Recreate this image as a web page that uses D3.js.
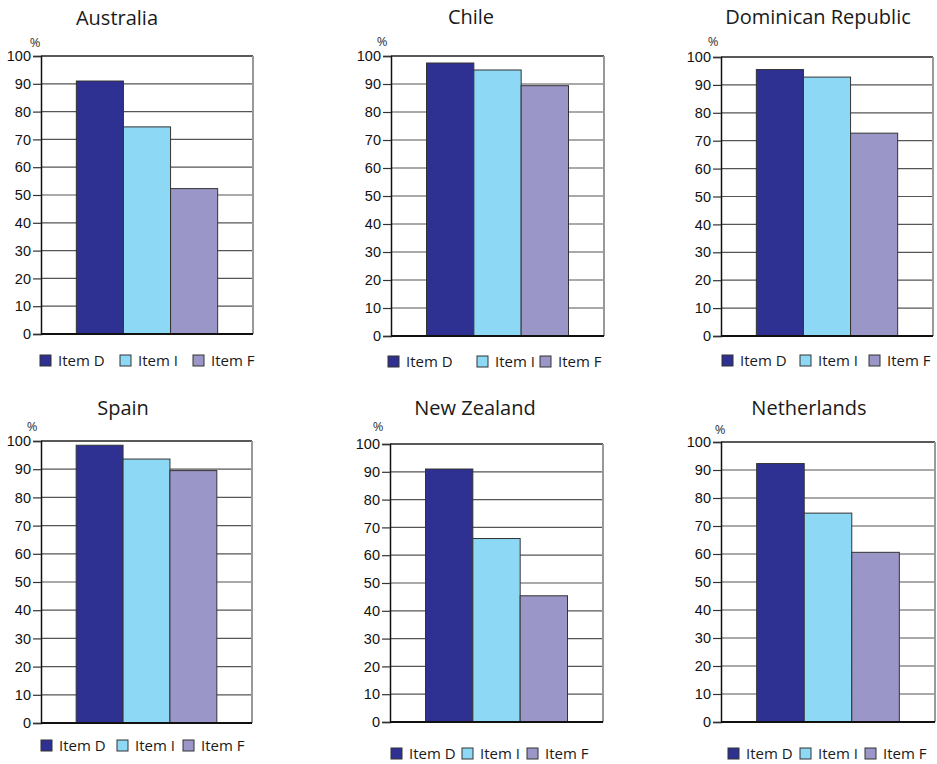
<!DOCTYPE html>
<html>
<head>
<meta charset="utf-8">
<script src="https://cdn.jsdelivr.net/npm/d3@7"></script>
<style>
  html, body { margin: 0; padding: 0; background: #fff; }
  svg { display: block; }
  .tick text { font-family: "Liberation Sans", Arial, sans-serif; font-size: 14.5px; fill: #111; }
</style>
</head>
<body>
<svg id="chart" width="937" height="764"></svg>
<script>
// ---- data ----
const countries = ["Australia", "Chile", "Dominican Republic", "Spain", "New Zealand", "Netherlands"];
const items = ["Item D", "Item I", "Item F"];
const itemD = [91, 97.5, 95.5, 98.5, 91, 92.3];
const itemI = [74.5, 95, 92.8, 93.6, 66, 74.6];
const itemF = [52.3, 89.4, 72.7, 89.5, 45.4, 60.6];
const yTicks = [0, 10, 20, 30, 40, 50, 60, 70, 80, 90, 100];
const colors = ["#2e3192", "#8dd8f5", "#9b96c8"];

// ---- layout (per panel) ----
const layout = [
  {left: 41,  right: 253, top: 56,  bottom: 334, titleX: 117, titleY: 25,  pctX: 35,  pctY: 47,  legX: [40, 120, 193], legY: 361},
  {left: 391, right: 604, top: 56,  bottom: 336, titleX: 471, titleY: 24,  pctX: 382, pctY: 46,  legX: [388, 477, 540], legY: 362},
  {left: 721, right: 933, top: 57,  bottom: 336, titleX: 818, titleY: 24,  pctX: 713, pctY: 46,  legX: [722, 800, 869], legY: 361},
  {left: 41,  right: 252, top: 441, bottom: 723, titleX: 123, titleY: 415, pctX: 32,  pctY: 431, legX: [41, 117, 183], legY: 746},
  {left: 390, right: 603, top: 444, bottom: 722, titleX: 475, titleY: 415, pctX: 378, pctY: 431, legX: [391, 462, 527], legY: 754},
  {left: 721, right: 935, top: 442, bottom: 722, titleX: 809, titleY: 415, pctX: 720, pctY: 434, legX: [728, 800, 865], legY: 754}
];

const svg = d3.select("#chart");
const series = [itemD, itemI, itemF];

countries.forEach((country, ci) => {
  const L = layout[ci];
  const g = svg.append("g");
  const values = items.map((it, k) => ({item: it, value: series[k][ci]}));

  const x = d3.scaleBand().domain(items).range([L.left, L.right]).paddingInner(0).paddingOuter(0.75);
  const y = d3.scaleLinear().domain([0, 100]).range([L.bottom, L.top]);

  // gridlines
  g.append("g").selectAll("line").data(yTicks.filter(t => t > 0)).join("line")
    .attr("x1", L.left).attr("x2", L.right)
    .attr("y1", d => y(d)).attr("y2", d => y(d))
    .attr("stroke", d => d === 100 ? "#222" : "#555")
    .attr("stroke-width", d => d === 100 ? 1.5 : 1.2);

  // right border
  g.append("line").attr("x1", L.right).attr("x2", L.right)
    .attr("y1", y(100)).attr("y2", y(0))
    .attr("stroke", "#999").attr("stroke-width", 2);

  // bars
  g.append("g").selectAll("rect").data(values).join("rect")
    .attr("x", d => x(d.item))
    .attr("width", x.bandwidth())
    .attr("y", d => y(d.value))
    .attr("height", d => y(0) - y(d.value))
    .attr("fill", (d, k) => colors[k])
    .attr("stroke", "#333").attr("stroke-width", 1);

  // y axis
  const ax = g.append("g").attr("transform", `translate(${L.left},0)`)
    .call(d3.axisLeft(y).tickValues(yTicks).tickSize(8).tickPadding(2).tickFormat(d3.format("d")));
  ax.select(".domain").attr("stroke", "#111").attr("stroke-width", 1.5);
  ax.selectAll(".tick line").attr("stroke", "#333").attr("stroke-width", 1.2);

  // baseline
  g.append("line").attr("x1", L.left).attr("x2", L.right)
    .attr("y1", y(0)).attr("y2", y(0))
    .attr("stroke", "#111").attr("stroke-width", 2);

  // title
  g.append("text").attr("x", L.titleX).attr("y", L.titleY)
    .attr("text-anchor", "middle")
    .style("font-family", "'Open Sans', sans-serif").style("font-size", "20px").style("fill", "#1a1a1a")
    .text(country);

  // % label
  g.append("text").attr("x", L.pctX).attr("y", L.pctY)
    .attr("text-anchor", "middle")
    .style("font-family", "'Open Sans', sans-serif").style("font-size", "13px").style("fill", "#333")
    .text("%");

  // legend
  const lg = g.append("g");
  items.forEach((it, k) => {
    lg.append("rect").attr("x", L.legX[k]).attr("y", L.legY - 6)
      .attr("width", 11).attr("height", 11)
      .attr("fill", colors[k]).attr("stroke", "#333").attr("stroke-width", 1);
    lg.append("text").attr("x", L.legX[k] + 18).attr("y", L.legY + 5)
      .style("font-family", "'Open Sans', sans-serif").style("font-size", "15px").style("fill", "#1a1a1a")
      .text(it);
  });
});
</script>
</body>
</html>
